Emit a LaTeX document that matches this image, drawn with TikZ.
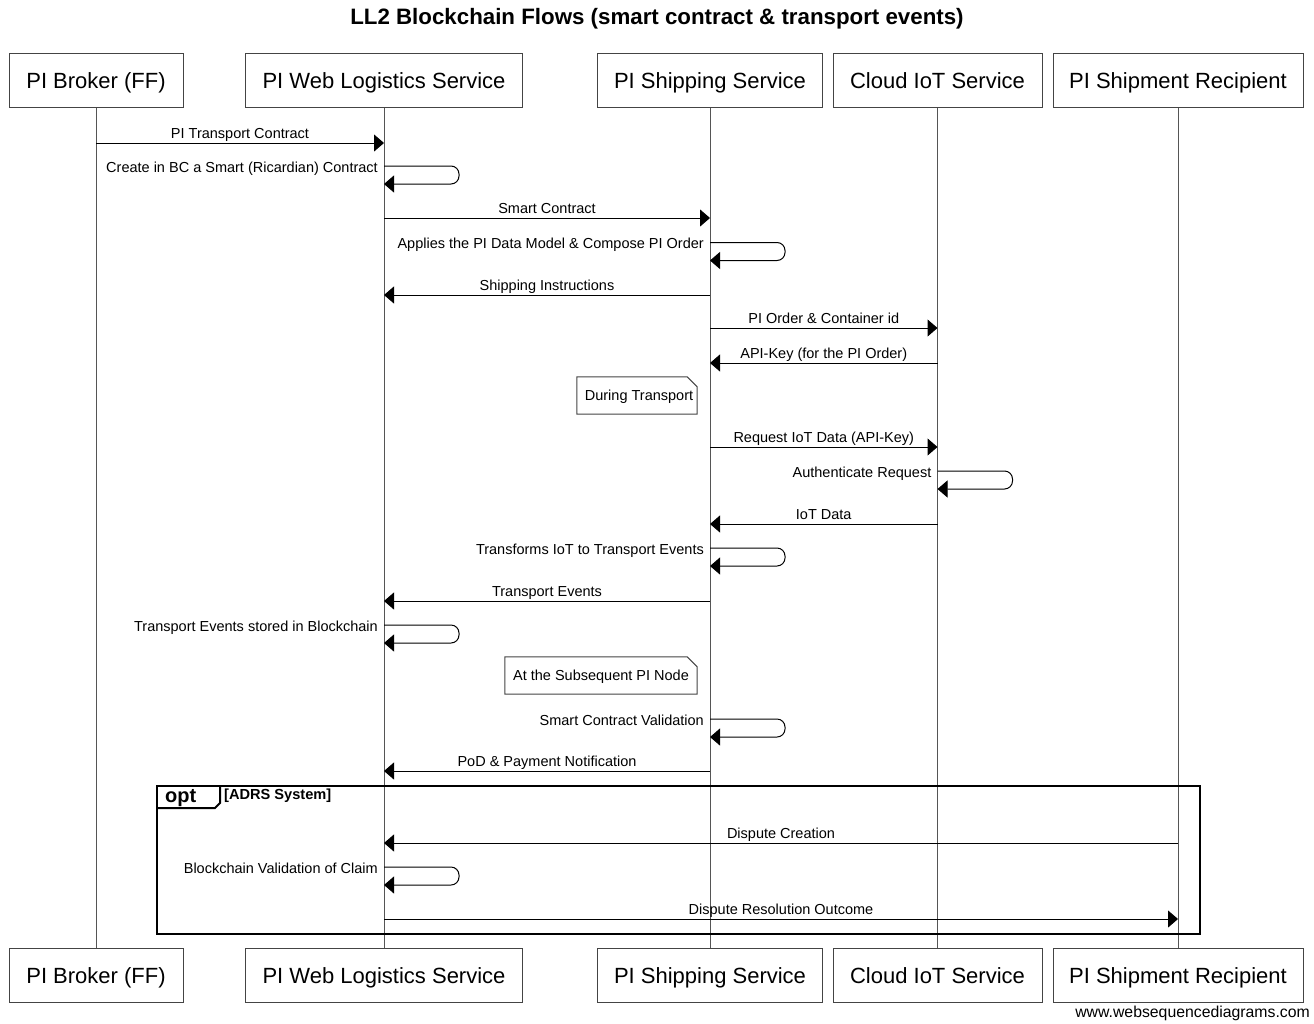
\documentclass[tikz,border=0pt]{standalone}
\usepackage{fontspec}
\setmainfont{Liberation Sans}
\usetikzlibrary{arrows.meta}
\definecolor{life}{HTML}{555555}
\definecolor{boxline}{HTML}{444444}
\newcommand\selfmsg[3]{%
  \draw[msg, rounded corners=8pt] (#1.south |- 0,#2) -- ++(75,0) -- ++(0,18) -- ++(-75,0);
  \path (#1.south |- 0,#2) ++(-6,6) node[selflbl]{#3};}
\begin{document}
\begin{tikzpicture}[x=1pt,y=-1pt,
  actor/.style={draw=boxline, line width=1pt, minimum height=54pt, inner sep=0pt, fill=white, text height=20pt, text depth=5pt, font=\fontsize{22}{26}\selectfont},
  lifeline/.style={draw=life, line width=1pt},
  msg/.style={draw=black, line width=1pt, -{Triangle[length=10pt,width=17pt]}},
  lbl/.style={font=\fontsize{14.5}{17}\selectfont, anchor=base, yshift=5pt, inner sep=0pt},
  selflbl/.style={font=\fontsize{14.5}{17}\selectfont, anchor=base east, inner sep=0pt},
  notetext/.style={font=\fontsize{14.5}{17}\selectfont, inner sep=0pt},
  noteline/.style={draw=boxline, line width=1pt, fill=white},
  framestyle/.style={draw=black, line width=2pt}]
\useasboundingbox (0,0) rectangle (1314,1023);
% title
\node[font=\bfseries\fontsize{22.3}{26}\selectfont] (title) at (657,19) {LL2 Blockchain Flows (smart contract \& transport events)};
% actors top
\node[actor, minimum width=174pt] (a1t) at (96,80.5) {PI Broker (FF)};
\node[actor, minimum width=277pt] (a2t) at (384,80.5) {PI Web Logistics Service};
\node[actor, minimum width=225pt] (a3t) at (710,80.5) {PI Shipping Service};
\node[actor, minimum width=209pt] (a4t) at (937.5,80.5) {Cloud IoT Service};
\node[actor, minimum width=250pt] (a5t) at (1178,80.5) {PI Shipment Recipient};
% actors bottom
\node[actor, minimum width=174pt] (a1b) at (96,975.5) {PI Broker (FF)};
\node[actor, minimum width=277pt] (a2b) at (384,975.5) {PI Web Logistics Service};
\node[actor, minimum width=225pt] (a3b) at (710,975.5) {PI Shipping Service};
\node[actor, minimum width=209pt] (a4b) at (937.5,975.5) {Cloud IoT Service};
\node[actor, minimum width=250pt] (a5b) at (1178,975.5) {PI Shipment Recipient};
% lifelines
\foreach \i in {1,...,5} {\draw[lifeline] (a\i t.south) -- (a\i b.north);}
% messages
\draw[msg] (a1t.south |- 0,143) -- node[lbl, midway]{PI Transport Contract} (a2t.south |- 0,143);
\selfmsg{a2t}{166}{Create in BC a Smart (Ricardian) Contract}
\draw[msg] (a2t.south |- 0,218) -- node[lbl, midway]{Smart Contract} (a3t.south |- 0,218);
\selfmsg{a3t}{242.5}{Applies the PI Data Model \& Compose PI Order}
\draw[msg] (a3t.south |- 0,295) -- node[lbl, midway]{Shipping Instructions} (a2t.south |- 0,295);
\draw[msg] (a3t.south |- 0,328) -- node[lbl, midway]{PI Order \& Container id} (a4t.south |- 0,328);
\draw[msg] (a4t.south |- 0,363) -- node[lbl, midway]{API-Key (for the PI Order)} (a3t.south |- 0,363);
% note 1
\node[notetext, minimum width=120pt, minimum height=37pt] (n1) at (637,395.5) {};
\draw[noteline] (n1.north west) -- ([xshift=-10pt]n1.north east) -- ([yshift=-10pt]n1.north east) -- (n1.south east) -- (n1.south west) -- cycle;
\node[notetext] (n1t) at ([xshift=2pt,yshift=-1pt]n1.center) {During Transport};
\draw[msg] (a3t.south |- 0,447) -- node[lbl, midway]{Request IoT Data (API-Key)} (a4t.south |- 0,447);
\selfmsg{a4t}{471}{Authenticate Request}
\draw[msg] (a4t.south |- 0,524) -- node[lbl, midway]{IoT Data} (a3t.south |- 0,524);
\selfmsg{a3t}{548}{Transforms IoT to Transport Events}
\draw[msg] (a3t.south |- 0,601) -- node[lbl, midway]{Transport Events} (a2t.south |- 0,601);
\selfmsg{a2t}{625}{Transport Events stored in Blockchain}
% note 2
\node[notetext, minimum width=192pt, minimum height=37pt] (n2) at (601,675.5) {};
\draw[noteline] (n2.north west) -- ([xshift=-10pt]n2.north east) -- ([yshift=-10pt]n2.north east) -- (n2.south east) -- (n2.south west) -- cycle;
\node[notetext] (n2t) at ([xshift=0pt,yshift=-1pt]n2.center) {At the Subsequent PI Node};
\selfmsg{a3t}{719}{Smart Contract Validation}
\draw[msg] (a3t.south |- 0,771) -- node[lbl, midway]{PoD \& Payment Notification} (a2t.south |- 0,771);
% opt frame
\coordinate (fr1) at (157,786);
\coordinate (fr2) at (1200,934);
\draw[framestyle] (fr1) rectangle (fr2);
\draw[framestyle] (fr1) ++(0,22) -- ++(58,0) -- ++(5,-5) -- ++(0,-17);
\node[font=\bfseries\fontsize{20}{22}\selectfont, anchor=west, inner sep=0pt] (opt) at (165,798) {opt};
\node[font=\bfseries\fontsize{14.6}{17}\selectfont, anchor=west, inner sep=0pt] (guard) at (224,796) {[ADRS System]};
\draw[msg] (a5t.south |- 0,843) -- node[lbl, midway]{Dispute Creation} (a2t.south |- 0,843);
\selfmsg{a2t}{867}{Blockchain Validation of Claim}
\draw[msg] (a2t.south |- 0,919) -- node[lbl, midway]{Dispute Resolution Outcome} (a5t.south |- 0,919);
% watermark
\node[anchor=east, font=\fontsize{15.8}{18}\selectfont, inner sep=0pt] (wm) at (1310,1013) {www.websequencediagrams.com};
\end{tikzpicture}
\end{document}
